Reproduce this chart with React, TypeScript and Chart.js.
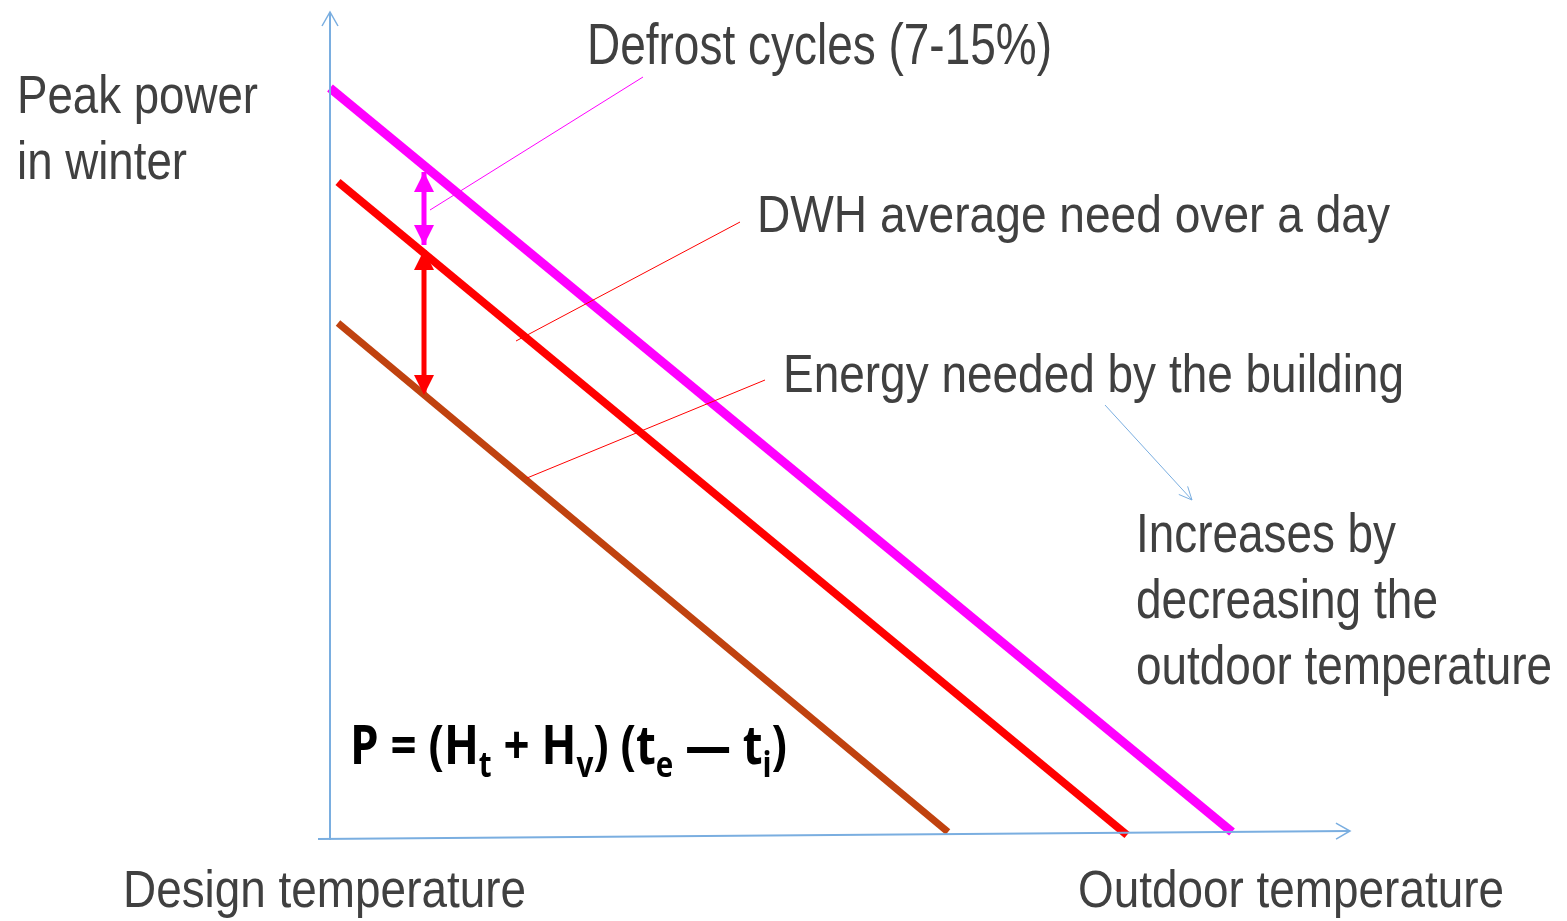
import React, { useEffect, useRef } from "react";
import { Chart, registerables } from "chart.js";
Chart.register(...registerables);

// Abstract diagram units: x = outdoor temperature (0 = design temperature), y = power
const X_MIN = -33, X_MAX = 123.7, Y_MIN = -8.3, Y_MAX = 83.8;

const defrostLine = [{ x: 0, y: 75 }, { x: 90.2, y: 0.6 }];
const dwhLine = [{ x: 0.8, y: 65.6 }, { x: 79.7, y: 0.3 }];
const buildingLine = [{ x: 0.8, y: 51.5 }, { x: 61.8, y: 0.6 }];

const yAxisLine = [{ x: 0, y: -0.2 }, { x: 0, y: 82.6 }];
const xAxisLine = [{ x: -1.2, y: -0.1 }, { x: 102.0, y: 0.7 }];

const defrostArrow = [{ x: 9.4, y: 66.6 }, { x: 9.4, y: 59.3 }];
const dwhArrow = [{ x: 9.4, y: 58.8 }, { x: 9.4, y: 44.3 }];

const defrostLeader = [{ x: 10.0, y: 62.8 }, { x: 31.3, y: 76.1 }];
const dwhLeader = [{ x: 18.6, y: 49.7 }, { x: 41.0, y: 61.6 }];
const buildingLeader = [{ x: 19.7, y: 36.0 }, { x: 43.5, y: 45.8 }];
const trendLeader = [{ x: 77.5, y: 43.3 }, { x: 86.2, y: 33.8 }];

const labelPeak = ["Peak power", "in winter"];
const labelDefrost = "Defrost cycles (7-15%)";
const labelDwh = "DWH average need over a day";
const labelBuilding = "Energy needed by the building";
const labelTrend = ["Increases by", "decreasing the", "outdoor temperature"];
const labelDesign = "Design temperature";
const labelOutdoor = "Outdoor temperature";

const AXIS_BLUE = "#7aaee0";
const MAGENTA = "#ff00ff";
const RED = "#ff0000";
const BROWN = "#c0420f";
const TEXT = "#404040";
const SANS = '"Liberation Sans", Arial, sans-serif';
const BOLD = '"Open Sans", "Noto Sans", sans-serif';

function seg(data: { x: number; y: number }[], color: string, width: number) {
  return {
    data,
    borderColor: color,
    backgroundColor: color,
    borderWidth: width,
    pointRadius: 0,
    fill: false,
    tension: 0,
    borderCapStyle: "butt" as const,
  };
}

const overlay = {
  id: "overlay",
  afterDatasetsDraw(chart: any) {
    const ctx: CanvasRenderingContext2D = chart.ctx;
    const xs = chart.scales.x, ys = chart.scales.y;
    const P = (p: { x: number; y: number }) => [xs.getPixelForValue(p.x), ys.getPixelForValue(p.y)];
    ctx.save();

    const filledHead = (tip: number[], from: number[], color: string, len: number, half: number) => {
      const dx = tip[0] - from[0], dy = tip[1] - from[1];
      const L = Math.hypot(dx, dy);
      const ux = dx / L, uy = dy / L;
      const bx = tip[0] - ux * len, by = tip[1] - uy * len;
      ctx.fillStyle = color;
      ctx.beginPath();
      ctx.moveTo(tip[0], tip[1]);
      ctx.lineTo(bx - uy * half, by + ux * half);
      ctx.lineTo(bx + uy * half, by - ux * half);
      ctx.closePath();
      ctx.fill();
    };
    const openHead = (tip: number[], from: number[], color: string, len: number, half: number, lw: number) => {
      const dx = tip[0] - from[0], dy = tip[1] - from[1];
      const L = Math.hypot(dx, dy);
      const ux = dx / L, uy = dy / L;
      const bx = tip[0] - ux * len, by = tip[1] - uy * len;
      ctx.strokeStyle = color;
      ctx.lineWidth = lw;
      ctx.beginPath();
      ctx.moveTo(bx - uy * half, by + ux * half);
      ctx.lineTo(tip[0], tip[1]);
      ctx.lineTo(bx + uy * half, by - ux * half);
      ctx.stroke();
    };
    const a0 = P(defrostArrow[0]), a1 = P(defrostArrow[1]);
    filledHead(a0, a1, MAGENTA, 20, 10);
    filledHead(a1, a0, MAGENTA, 20, 10);
    const b0 = P(dwhArrow[0]), b1 = P(dwhArrow[1]);
    filledHead(b0, b1, RED, 20, 10);
    filledHead(b1, b0, RED, 20, 10);
    openHead(P(yAxisLine[1]), P(yAxisLine[0]), AXIS_BLUE, 14, 8, 1.5);
    openHead(P(xAxisLine[1]), P(xAxisLine[0]), AXIS_BLUE, 14, 8, 1.5);
    openHead(P(trendLeader[1]), P(trendLeader[0]), AXIS_BLUE, 13, 6, 1);

    // narrow-looking text: size from cap height, horizontally squeezed to the target width
    ctx.fillStyle = TEXT;
    ctx.textBaseline = "alphabetic";
    ctx.textAlign = "left";
    const put = (t: string, x: number, y: number, size: number, width: number) => {
      ctx.font = `normal ${size}px ${SANS}`;
      const w = ctx.measureText(t).width;
      ctx.save();
      ctx.translate(x, y);
      ctx.scale(width / w, 1);
      ctx.fillText(t, 0, 0);
      ctx.restore();
    };
    put(labelPeak[0], 17, 113, 53, 241);
    put(labelPeak[1], 17, 179, 53, 170);
    put(labelDefrost, 587, 64, 57, 465);
    put(labelDwh, 757, 232, 52, 633);
    put(labelBuilding, 783, 392, 53, 621);
    put(labelTrend[0], 1136, 552, 55, 260);
    put(labelTrend[1], 1136, 618, 55, 302);
    put(labelTrend[2], 1136, 684, 55, 416);
    put(labelDesign, 123, 907, 51, 403);
    put(labelOutdoor, 1078, 907, 51, 426);

    // formula
    ctx.fillStyle = "#000000";
    const main = 54, sub = 35;
    const parts: [string, boolean][] = [
      ["P = (H", false], ["t", true], [" + H", false], ["v", true], [") (t", false], ["e", true], [" \u2014 t", false], ["i", true], [")", false],
    ];
    let total = 0;
    for (const [t, isSub] of parts) {
      ctx.font = `bold ${isSub ? sub : main}px ${BOLD}`;
      total += ctx.measureText(t).width;
    }
    ctx.save();
    ctx.translate(350, 764);
    ctx.scale(437 / total, 1);
    let x = 0;
    for (const [t, isSub] of parts) {
      ctx.font = `bold ${isSub ? sub : main}px ${BOLD}`;
      ctx.fillText(t, x, isSub ? 13 : 0);
      x += ctx.measureText(t).width;
    }
    ctx.restore();
    ctx.restore();
  },
};

export default function App() {
  const ref = useRef<HTMLCanvasElement>(null);
  useEffect(() => {
    document.body.style.margin = "0";
    const chart = new Chart(ref.current!, {
      type: "line",
      data: {
        datasets: [
          seg(yAxisLine, AXIS_BLUE, 2),
          seg(xAxisLine, AXIS_BLUE, 2),
          seg(defrostLeader, MAGENTA, 1),
          seg(dwhLeader, RED, 1),
          seg(buildingLeader, RED, 1),
          seg(trendLeader, AXIS_BLUE, 1),
          seg(buildingLine, BROWN, 7),
          seg(dwhLine, RED, 8),
          seg(defrostLine, MAGENTA, 9),
          seg(defrostArrow, MAGENTA, 5),
          seg(dwhArrow, RED, 5),
        ] as any,
      },
      options: {
        animation: false,
        responsive: false,
        layout: { padding: 0 },
        plugins: { legend: { display: false }, tooltip: { enabled: false } },
        scales: {
          x: { type: "linear", min: X_MIN, max: X_MAX, display: false },
          y: { type: "linear", min: Y_MIN, max: Y_MAX, display: false },
        },
      },
      plugins: [overlay],
    });
    return () => chart.destroy();
  }, []);
  return (
    <div style={{ position: "absolute", left: 0, top: 0, width: 1567, height: 921, background: "#fff" }}>
      <canvas ref={ref} width={1567} height={921} />
    </div>
  );
}
